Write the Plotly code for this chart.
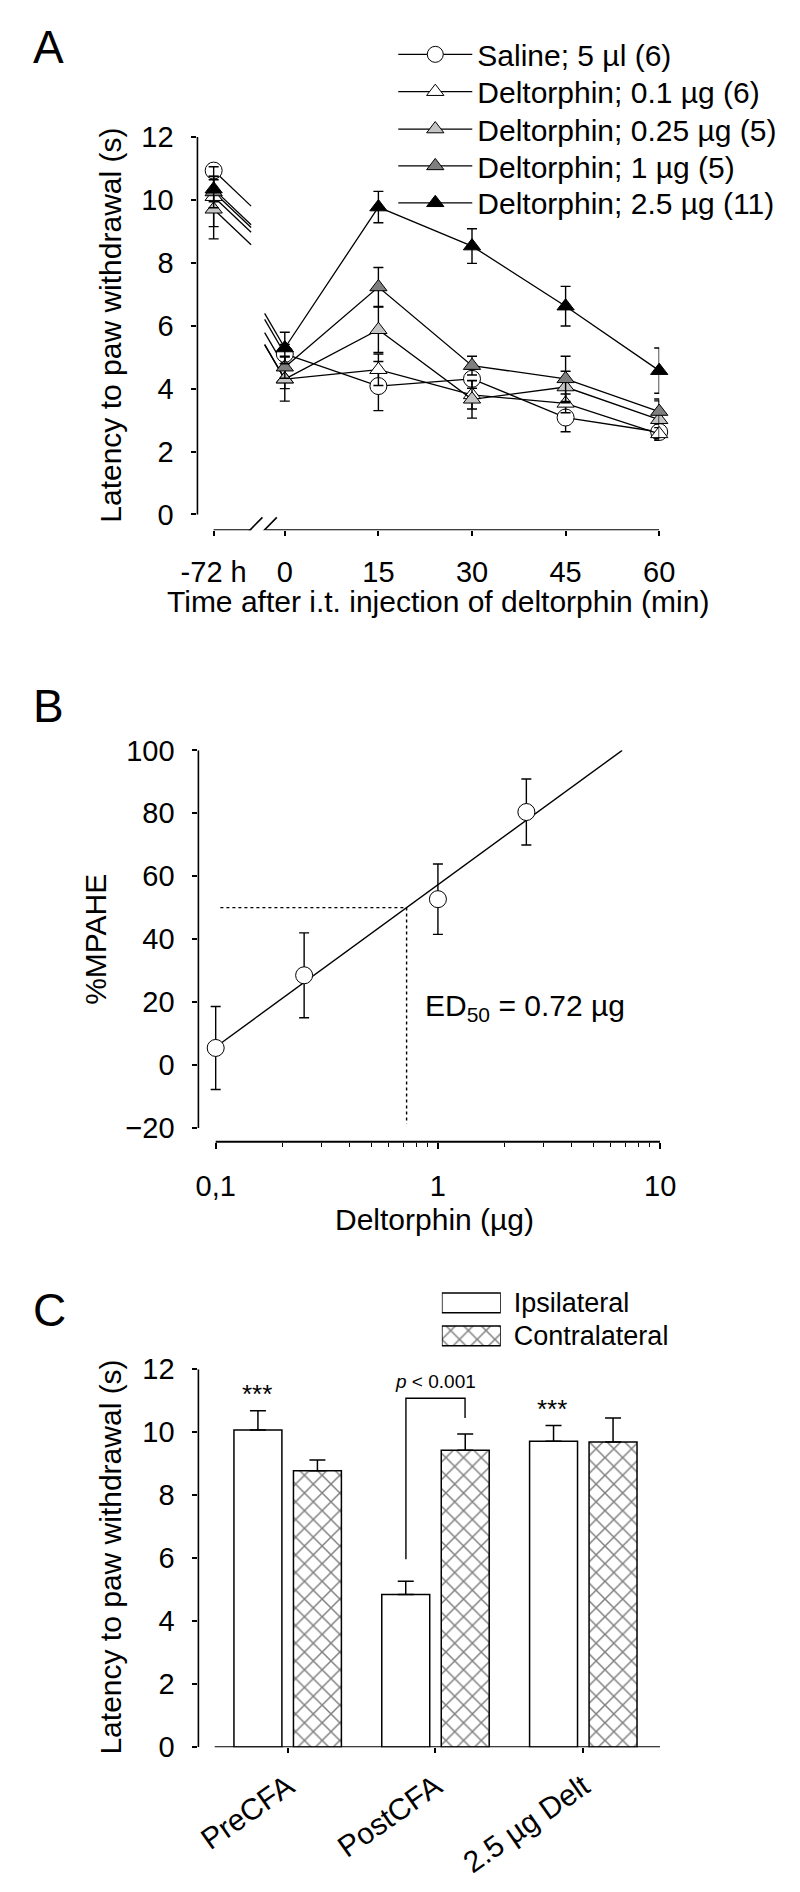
import numpy as np
import plotly.graph_objects as go

W, H = 800, 1892
FONT = "Liberation Sans, Arial, sans-serif"

# ---------------- Panel A data ----------------
time_ticklabels = ["-72 h", "0", "15", "30", "45", "60"]
times = [0, 15, 30, 45, 60]
series_names = ["Saline; 5 µl (6)", "Deltorphin; 0.1 µg (6)", "Deltorphin; 0.25 µg (5)",
                "Deltorphin; 1 µg (5)", "Deltorphin; 2.5 µg (11)"]
pre_values = [10.93, 10.10, 9.70, 10.25, 10.34]
pre_errors = [0.20, 0.95, 0.94, 0.50, 0.40]
saline = [5.10, 4.08, 4.31, 3.08, 2.62]
saline_err = [0.30, 0.78, 0.30, 0.45, 0.20]
delt_01 = [4.30, 4.60, 3.80, 3.53, 2.56]
delt_01_err = [0.70, 0.50, 0.45, 0.30, 0.20]
delt_025 = [4.30, 5.87, 3.66, 4.05, 3.01]
delt_025_err = [0.30, 0.72, 0.60, 0.50, 0.60]
delt_1 = [4.68, 7.23, 4.73, 4.31, 3.27]
delt_1_err = [0.35, 0.62, 0.30, 0.72, 0.40]
delt_25 = [5.29, 9.77, 8.53, 6.62, 4.57]
delt_25_err = [0.50, 0.50, 0.55, 0.63, 0.72]

# ---------------- Panel B data ----------------
doses = [0.1, 0.25, 1, 2.5]
mpahe = [5.4, 28.5, 52.7, 80.4]
mpahe_err = [13.2, 13.5, 11.2, 10.5]
dose_ticklabels = ["0,1", "1", "10"]
ed50_label = "ED<sub>50</sub> = 0.72 µg"

# ---------------- Panel C data ----------------
groups = ["PreCFA", "PostCFA", "2.5 µg Delt"]
ipsi = [10.07, 4.85, 9.71]
ipsi_err = [0.61, 0.42, 0.50]
contra = [8.78, 9.43, 9.69]
contra_err = [0.34, 0.51, 0.76]
bar_names = ["Ipsilateral", "Contralateral"]
stars = ["***", "", "***"]
p_label = "<i>p</i> &lt; 0.001"

# ---------------- styles / layout helpers ----------------
def fx(px):
    return px / W

def fy(py):
    return 1 - py / H

X_PRE = -11.4          # axis position of the -72 h point
BLACK = "black"
symbols = ["circle", "triangle-up", "triangle-up", "triangle-up", "triangle-up"]
sizes = [17, 15, 15, 15, 15]
fills = ["white", "white", "#c4c4c4", "#7f7f7f", "black"]
A_series = [saline, delt_01, delt_025, delt_1, delt_25]
A_errors = [saline_err, delt_01_err, delt_025_err, delt_1_err, delt_25_err]
HATCH = dict(fgcolor=BLACK, bgcolor="white", size=12.5, solidity=0.22)

fig = go.Figure()

# ---- Panel A traces
legend_ids = ["legend", "legend2", "legend3", "legend4", "legend5"]
for i, name in enumerate(series_names):
    vals = A_series[i]
    # broken connectors across the axis break
    fig.add_trace(go.Scatter(x=[X_PRE, X_PRE + 6.0], y=[pre_values[i], pre_values[i] - 1.13],
                             mode="lines", line=dict(color=BLACK, width=1.3),
                             showlegend=False, hoverinfo="skip", xaxis="x", yaxis="y", cliponaxis=False))
    fig.add_trace(go.Scatter(x=[-3.23, times[0]], y=[vals[0] + 1.1, vals[0]],
                             mode="lines", line=dict(color=BLACK, width=1.3),
                             showlegend=False, hoverinfo="skip", xaxis="x", yaxis="y", cliponaxis=False))
for i, name in enumerate(series_names):
    vals, errs = A_series[i], A_errors[i]
    mk = dict(symbol=symbols[i], size=sizes[i], color=fills[i], line=dict(color=BLACK, width=1))
    fig.add_trace(go.Scatter(x=[X_PRE], y=[pre_values[i]], mode="markers", marker=mk,
                             error_y=dict(type="data", array=[pre_errors[i]], color=BLACK, thickness=1.4, width=5),
                             showlegend=False, xaxis="x", yaxis="y", cliponaxis=False))
    fig.add_trace(go.Scatter(x=times, y=vals, mode="lines+markers", name=name, marker=mk,
                             line=dict(color=BLACK, width=1.3),
                             error_y=dict(type="data", array=errs, color=BLACK, thickness=1.4, width=5),
                             legend=legend_ids[i], xaxis="x", yaxis="y", cliponaxis=False))

# ---- Panel B traces
logd = np.log10(doses)
slope, intercept = np.polyfit(logd, mpahe, 1)
ed50 = 10 ** ((50 - intercept) / slope)
x_end = 10 ** ((100 - intercept) / slope)
fit_x = [doses[0], x_end]
fig.add_trace(go.Scatter(x=fit_x, y=[intercept + slope * np.log10(v) for v in fit_x], mode="lines",
                         line=dict(color=BLACK, width=1.4), showlegend=False,
                         xaxis="x2", yaxis="y2", cliponaxis=False))
fig.add_trace(go.Scatter(x=[0.105, ed50, ed50], y=[50, 50, -18.7], mode="lines",
                         line=dict(color=BLACK, width=1.4, dash="dot"), showlegend=False,
                         xaxis="x2", yaxis="y2", cliponaxis=False))
fig.add_trace(go.Scatter(x=doses, y=mpahe, mode="markers",
                         marker=dict(symbol="circle", size=17, color="white", line=dict(color=BLACK, width=1)),
                         error_y=dict(type="data", array=mpahe_err, color=BLACK, thickness=1.4, width=5),
                         showlegend=False, xaxis="x2", yaxis="y2", cliponaxis=False))

# ---- Panel C traces
fig.add_trace(go.Bar(x=groups, y=ipsi, name=bar_names[0],
                     marker=dict(color="white", line=dict(color=BLACK, width=1.5)),
                     error_y=dict(type="data", symmetric=False, array=ipsi_err, arrayminus=[0] * len(ipsi),
                                  color=BLACK, thickness=1.5, width=8),
                     showlegend=False, xaxis="x3", yaxis="y3"))
fig.add_trace(go.Bar(x=groups, y=contra, name=bar_names[1],
                     marker=dict(color="white", line=dict(color=BLACK, width=1.5),
                                 pattern=dict(shape="x", **HATCH)),
                     error_y=dict(type="data", symmetric=False, array=contra_err, arrayminus=[0] * len(contra),
                                  color=BLACK, thickness=1.5, width=8),
                     showlegend=False, xaxis="x3", yaxis="y3"))
# legend swatches for panel C
fig.add_trace(go.Bar(y=bar_names, x=[1] * len(bar_names), orientation="h", width=0.6,
                     marker=dict(color="white", line=dict(color=BLACK, width=1.5),
                                 pattern=dict(shape=["", "x"], **HATCH)),
                     showlegend=False, hoverinfo="skip", xaxis="x4", yaxis="y4", cliponaxis=False))

# ---------------- axes ----------------
tickfont = dict(family=FONT, size=29, color=BLACK)
common = dict(showgrid=False, zeroline=False, showline=False, ticks="outside", tickcolor=BLACK,
              tickwidth=1.5, tickfont=tickfont)

x0 = 280.0
ppm = 6.5  # px per minute
layout = dict(
    width=W, height=H, autosize=False,
    margin=dict(l=0, r=0, t=0, b=0),
    paper_bgcolor="white", plot_bgcolor="rgba(0,0,0,0)",
    font=dict(family=FONT, color=BLACK),
    barmode="group", bargap=0.195, bargroupgap=0.194,
    xaxis=dict(domain=[fx(189), fx(670)], range=[(189 - x0) / ppm, 60], anchor="y",
               tickmode="array", tickvals=[X_PRE] + times, ticktext=time_ticklabels,
               ticklen=5, ticklabelstandoff=11, **common),
    yaxis=dict(domain=[fy(523), fy(123)], range=[-0.5, 12], anchor="x",
               tickmode="array", tickvals=list(range(0, 13, 2)), ticklen=5, ticklabelstandoff=12, **common),
    xaxis2=dict(domain=[fx(190), fx(671)], type="log", range=[-1.0778, 1], anchor="y2",
                tickmode="array", tickvals=[0.1, 1, 10], ticktext=dose_ticklabels, ticklen=6,
                ticklabelstandoff=13,
                minor=dict(tickmode="array", tickvals=[0.2, 0.3, 0.4, 0.5, 0.6, 0.7, 0.8, 0.9,
                                                       2, 3, 4, 5, 6, 7, 8, 9],
                           ticks="outside", ticklen=4, tickcolor=BLACK, tickwidth=1.2),
                **common),
    yaxis2=dict(domain=[fy(1145), fy(747)], range=[-24.375, 100], anchor="x2",
                tickmode="array", tickvals=list(range(-20, 101, 20)), ticklen=5, ticklabelstandoff=12, **common),
    xaxis3=dict(domain=[fx(190), fx(671)], range=[-0.604, 2.52], anchor="y3", type="category",
                tickangle=-35, ticklen=5, ticklabelstandoff=4,
                **{**common, "tickfont": dict(family=FONT, size=30, color=BLACK)}),
    yaxis3=dict(domain=[fy(1761), fy(1376.5)], range=[0, 12], anchor="x3",
                tickmode="array", tickvals=list(range(0, 13, 2)), ticklen=5, ticklabelstandoff=12, **common),
    xaxis4=dict(domain=[fx(443.6), fx(505)], range=[0, 1], anchor="y4", visible=False),
    yaxis4=dict(domain=[fy(1359.4), fy(1292.2)], anchor="x4", type="category", autorange="reversed",
                side="right", showgrid=False, zeroline=False, showline=False, ticks="",
                tickfont=dict(family=FONT, size=27, color=BLACK), ticklabelstandoff=12),
)

# legends for panel A: one per row
legend_rows = [39, 77, 115, 152.5, 190]
for lid, ry in zip(legend_ids, legend_rows):
    layout[lid] = dict(x=fx(393), y=fy(ry), xanchor="left", yanchor="middle",
                       font=dict(family=FONT, size=30, color=BLACK), itemwidth=74,
                       bgcolor="rgba(0,0,0,0)", borderwidth=0)

fig.update_layout(**layout)

# ---------------- axis lines / decorations ----------------
line_style = dict(color=BLACK, width=1.6)
hline_style = dict(color=BLACK, width=2)
shapes = [
    # panel A axes
    dict(type="line", xref="x domain", yref="y", x0=0, x1=0, y0=0, y1=12, line=line_style),
    dict(type="line", xref="x", yref="y", x0=X_PRE, x1=-5.38, y0=-0.5, y1=-0.5, line=hline_style),
    dict(type="line", xref="x", yref="y", x0=-3.08, x1=60, y0=-0.5, y1=-0.5, line=hline_style),
    dict(type="line", xref="x", yref="y", x0=-7.18, x1=-3.58, y0=-0.82, y1=-0.094, line=line_style),
    dict(type="line", xref="x", yref="y", x0=-4.87, x1=-1.28, y0=-0.82, y1=-0.094, line=line_style),
    # panel B axes
    dict(type="line", xref="x2 domain", yref="y2", x0=0, x1=0, y0=-20, y1=100, line=line_style),
    dict(type="line", xref="x2", yref="y2 domain", x0=0.1, x1=10, y0=0, y1=0, line=hline_style),
    # panel C axes
    dict(type="line", xref="x3 domain", yref="y3", x0=0, x1=0, y0=0, y1=12, line=line_style),
    dict(type="line", xref="x3", yref="y3", x0=-0.494, x1=2.52, y0=0, y1=0, line=hline_style),
    # significance bracket
    dict(type="path", xref="x3", yref="y3", path="M 0.8,5.97 L 0.8,11.08 L 1.2,11.08 L 1.2,10.45",
         line=dict(color=BLACK, width=1.4)),
]
fig.update_layout(shapes=shapes)

title_font = dict(family=FONT, size=30, color=BLACK)
ann = [
    dict(text="A", x=fx(16), y=fy(32), xanchor="left", yanchor="middle", font=dict(family=FONT, size=46)),
    dict(text="B", x=fx(16), y=fy(702), xanchor="left", yanchor="middle", font=dict(family=FONT, size=46)),
    dict(text="C", x=fx(16), y=fy(1316), xanchor="left", yanchor="middle", font=dict(family=FONT, size=46)),
    dict(text="Latency to paw withdrawal (s)", x=fx(99), y=fy(315), textangle=-90, font=title_font),
    dict(text="Time after i.t. injection of deltorphin (min)", x=fx(440), y=fy(596), font=title_font),
    dict(text="%MPAHE", x=fx(82), y=fy(939), textangle=-90, font=title_font),
    dict(text="Deltorphin (µg)", x=fx(436), y=fy(1224), font=title_font),
    dict(text=ed50_label, x=fx(424), y=fy(1009), xanchor="left", font=title_font),
    dict(text="Latency to paw withdrawal (s)", x=fx(98), y=fy(1568), textangle=-90, font=title_font),
]
for a in ann:
    a.update(xref="paper", yref="paper", showarrow=False)
    a.setdefault("xanchor", "center")
    a.setdefault("yanchor", "middle")
# stars above ipsilateral bars
for g, v, e, s in zip(groups, ipsi, ipsi_err, stars):
    if s:
        ann.append(dict(text=s, x=g, y=v + e, xref="x3", yref="y3", xshift=-31, showarrow=False,
                        xanchor="center", yanchor="bottom", font=dict(family=FONT, size=26, color=BLACK)))
ann.append(dict(text=p_label, x=groups[1], y=11.6, xref="x3", yref="y3", showarrow=False,
                xanchor="center", yanchor="middle", font=dict(family=FONT, size=19, color=BLACK)))
fig.update_layout(annotations=ann)

fig.write_html("out.html", config={"displayModeBar": False},
               post_script="document.body.style.margin='0';")
